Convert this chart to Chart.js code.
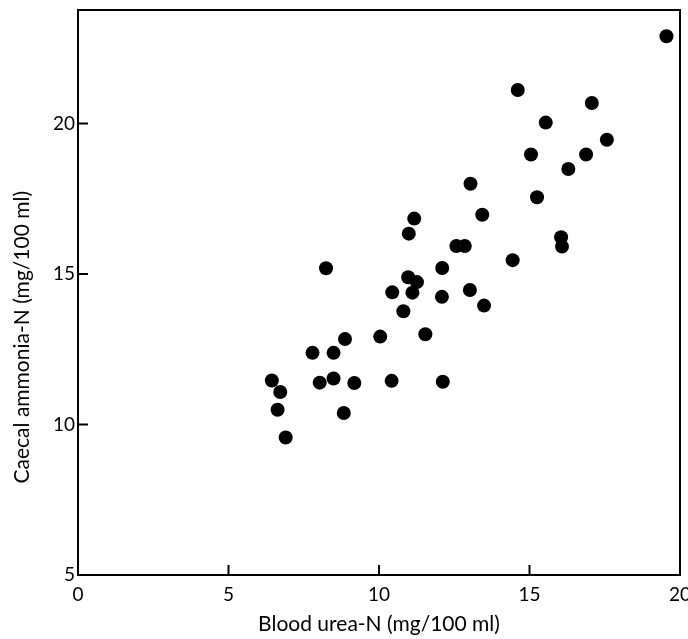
<!DOCTYPE html>
<html>
<head>
<meta charset="utf-8">
<title>Caecal ammonia-N vs blood urea-N</title>
<script src="https://cdn.jsdelivr.net/npm/chart.js@4"></script>
<style>
  html, body { margin: 0; padding: 0; background: #fff; overflow: hidden; }
</style>
</head>
<body>
<canvas id="scatter" width="688" height="639"></canvas>
<script>
// Blood urea-N (x) and caecal ammonia-N (y), mg/100 ml
const ureaN = [19.55, 14.61, 17.07, 15.54, 17.57, 15.05, 16.88, 16.29, 13.04, 15.25,
  13.43, 11.17, 10.99, 16.05, 16.08, 12.57, 12.85, 14.44, 8.24, 12.10,
  10.97, 11.26, 10.44, 11.11, 13.02, 12.09, 13.49, 10.81, 11.54, 10.04,
  8.87, 7.79, 8.49, 6.44, 6.72, 8.03, 8.49, 9.18, 10.42, 12.12,
  6.63, 8.83, 6.90];
const ammoniaN = [22.90, 21.11, 20.68, 20.03, 19.46, 18.97, 18.97, 18.49, 18.00, 17.55,
  16.97, 16.84, 16.34, 16.22, 15.91, 15.93, 15.93, 15.46, 15.19, 15.20,
  14.89, 14.73, 14.39, 14.38, 14.47, 14.24, 13.95, 13.76, 13.00, 12.92,
  12.84, 12.38, 12.38, 11.46, 11.08, 11.39, 11.53, 11.38, 11.45, 11.42,
  10.49, 10.38, 9.57];

const xTitle = 'Blood urea-N (mg/100 ml)';
const yTitle = 'Caecal ammonia-N (mg/100 ml)';
const xRange = [0, 20];
const yRange = [5, 23.77];
const tickStep = 5;

const points = ureaN.map((u, i) => ({ x: u, y: ammoniaN[i] }));
const fontFamily = 'Lato, "Open Sans", sans-serif';
const ink = '#000';

// frame round the plot, short ticks pointing inwards, rotated y title
const axisFrame = {
  id: 'axisFrame',
  beforeDatasetsDraw(chart) {
    const { ctx, chartArea: a, scales: { x, y } } = chart;
    const tickLen = 10;
    ctx.save();
    ctx.strokeStyle = '#000';
    ctx.lineWidth = 2;
    ctx.strokeRect(a.left, a.top, a.right - a.left, a.bottom - a.top);
    ctx.beginPath();
    x.ticks.forEach(t => {
      if (t.value > x.min && t.value < x.max) {
        const px = x.getPixelForValue(t.value);
        ctx.moveTo(px, a.bottom);
        ctx.lineTo(px, a.bottom - tickLen);
      }
    });
    y.ticks.forEach(t => {
      if (t.value > y.min && t.value < y.max) {
        const py = y.getPixelForValue(t.value);
        ctx.moveTo(a.left, py);
        ctx.lineTo(a.left + tickLen, py);
      }
    });
    ctx.stroke();

    ctx.fillStyle = ink;
    ctx.font = '21px ' + fontFamily;
    ctx.textAlign = 'center';
    ctx.textBaseline = 'middle';
    ctx.translate(22, y.getPixelForValue(12.9));
    ctx.rotate(-Math.PI / 2);
    ctx.fillText(yTitle, 0, 0);
    ctx.restore();
  }
};

new Chart(document.getElementById('scatter'), {
  type: 'scatter',
  data: {
    datasets: [{
      data: points,
      backgroundColor: '#000',
      borderColor: '#000',
      borderWidth: 0,
      pointRadius: 7,
      pointHoverRadius: 7
    }]
  },
  options: {
    responsive: false,
    animation: false,
    events: [],
    layout: { padding: { top: 10, right: 8, left: 0, bottom: 0 } },
    plugins: {
      legend: { display: false },
      tooltip: { enabled: false }
    },
    scales: {
      x: {
        type: 'linear',
        min: xRange[0],
        max: xRange[1],
        grid: { display: false, drawTicks: false },
        border: { display: false },
        ticks: {
          stepSize: tickStep,
          padding: 8,
          color: ink,
          font: { family: fontFamily, size: 19 }
        },
        title: {
          display: true,
          text: xTitle,
          color: ink,
          padding: { top: 2, bottom: 2 },
          font: { family: fontFamily, size: 21 }
        },
        afterFit: s => { s.height = 64; s.paddingLeft = 0; s.paddingRight = 0; }
      },
      y: {
        type: 'linear',
        min: yRange[0],
        max: yRange[1],
        grid: { display: false, drawTicks: false },
        border: { display: false },
        ticks: {
          stepSize: tickStep,
          includeBounds: false,
          padding: 3,
          color: ink,
          font: { family: fontFamily, size: 19 }
        },
        title: { display: false },
        afterFit: s => { s.width = 78; s.paddingTop = 0; s.paddingBottom = 0; }
      }
    }
  },
  plugins: [axisFrame]
});
</script>
</body>
</html>
